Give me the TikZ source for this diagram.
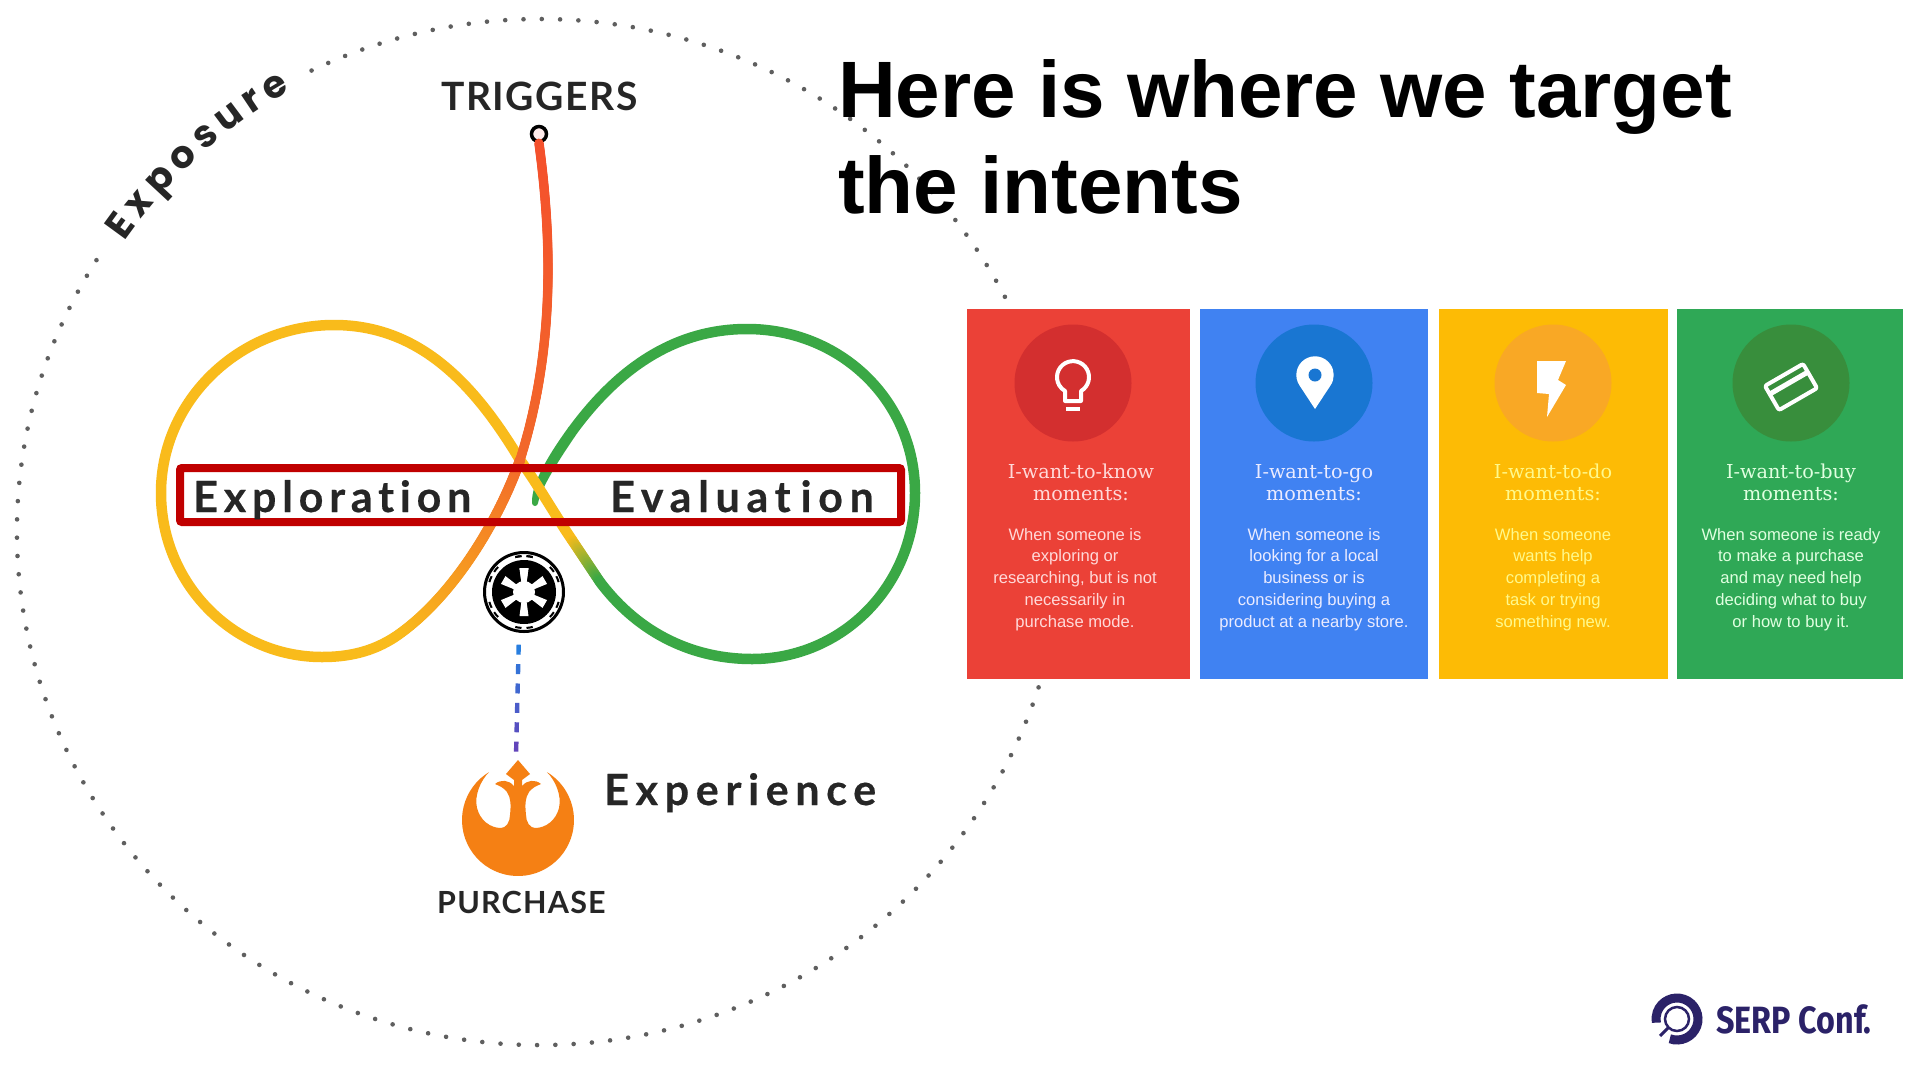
\documentclass[tikz,border=0pt]{standalone}
\usepackage{fontspec}
\usetikzlibrary{decorations.markings, decorations.text}
\setmainfont{Liberation Sans}
\newfontfamily\lblfont{Lato}[LetterSpace=15.5,Ligatures=NoCommon,BoldFeatures={FakeBold=0.4}]
\newfontfamily\capfont{Lato}[LetterSpace=4]
\newfontfamily\expofont{Poppins}
\newfontfamily\slabfont{DejaVu Serif}
\newfontfamily\logofont{Fira Sans}[FakeStretch=0.85]
\definecolor{inkgray}{HTML}{262626}
\definecolor{dotgray}{HTML}{5F5F5F}
\definecolor{loopyellow}{HTML}{F9BB1B}
\definecolor{loopgreen}{HTML}{3AA845}
\definecolor{triggerred}{HTML}{F4502C}
\definecolor{crossorange}{HTML}{F2682A}
\definecolor{boxred}{HTML}{C00000}
\definecolor{rebelorange}{HTML}{F58014}
\definecolor{dashblue}{HTML}{1E88E5}
\definecolor{dashpurple}{HTML}{6A3DB5}
\definecolor{logonavy}{HTML}{2B2268}
\definecolor{cardred}{HTML}{EB4137}
\definecolor{cardredd}{HTML}{D32F2F}
\definecolor{cardblue}{HTML}{4082F2}
\definecolor{cardblued}{HTML}{1976D2}
\definecolor{cardyellow}{HTML}{FDBB05}
\definecolor{cardyellowd}{HTML}{F9A825}
\definecolor{cardgreen}{HTML}{2FA856}
\definecolor{cardgreend}{HTML}{388E3C}
\tikzset{
  loopline/.style={line width=10.5pt,line cap=round},
  fadeline/.style n args={3}{decorate,decoration={markings,mark=between positions 0 and 1 step 1pt with {\pgfmathsetmacro\fadepct{min(100,100*(\pgfkeysvalueof{/pgf/decoration/mark info/distance from start}/\pgfdecoratedpathlength))}\fill[#2!\fadepct!#1] (0,0) circle (#3);}}},
  dashlink/.style={decorate,decoration={markings,mark=between positions 17pt and -10pt step 19.4pt with {\pgfmathsetmacro\fadepct{min(100,100*(\pgfkeysvalueof{/pgf/decoration/mark info/distance from start}/\pgfdecoratedpathlength))}\fill[dashpurple!\fadepct!dashblue] (-5,-2.2) rectangle (5,2.2);}}},
  bigword/.style={anchor=base west,inner sep=0pt,text=inkgray,font=\lblfont\bfseries\fontsize{43}{43}\selectfont},
  capword/.style={anchor=base west,inner sep=0pt,text=inkgray,font=\capfont\bfseries\fontsize{#1}{#1}\selectfont},
  card/.style={anchor=north west,inner sep=0pt,minimum height=370pt,fill=#1},
  badge/.style={circle,inner sep=0pt,minimum size=117pt,fill=#1},
  cardhead/.style={anchor=base,inner sep=0pt,align=center,text=#1,font=\slabfont\fontsize{19.2}{21.7}\selectfont},
  cardbody/.style={anchor=base,inner sep=0pt,align=center,text=#1,font=\fontsize{16.6}{21.7}\selectfont},
  iconline/.style={draw=white,line width=4pt,line join=round}
}
\begin{document}
\begin{tikzpicture}[x=1pt,y=1pt]
\useasboundingbox (0,0) rectangle (1920,-1080);
\fill[white] (0,0) rectangle (1920,-1080);
\draw[dotgray,line width=4.6pt,line cap=round,dash pattern=on 0pt off 18.3pt] (540,-532) ++(148:523 and 513) arc[start angle=148,end angle=476,x radius=523,y radius=513];
\path[decorate,decoration={text along path,text align=fit to path,text color=inkgray,text={|\expofont\bfseries\fontsize{38}{38}\selectfont|Exposure}}] (540,-532) ++(145:507) arc[start angle=145,end angle=119.4,radius=507];

\coordinate (cross) at (520,-460);
\coordinate (lowleft) at (395,-637);
\coordinate (fadestart) at (572,-540);
\coordinate (fadeend) at (600,-582);

\draw[loopline,loopgreen] (fadeend) .. controls (640,-635) and (695,-659) .. (752,-659) .. controls (843,-659) and (915,-585) .. (915,-493) .. controls (915,-400) and (840,-329) .. (747,-329) .. controls (665,-329) and (610,-380) .. (573,-430);
\fill[loopgreen] (568.8,-426.8) .. controls (552,-450) and (531,-482) .. (532,-503) arc[start angle=180,end angle=360,radius=3] .. controls (541,-488) and (560,-458) .. (577.2,-433.2) -- cycle;
\draw[loopline,loopyellow] (lowleft) .. controls (372,-652) and (348,-657) .. (322,-657) .. controls (233,-657) and (161,-583) .. (161,-493) .. controls (161,-400) and (240,-325) .. (334,-325) .. controls (420,-325) and (475,-385) .. (cross) .. controls (535,-480) and (555,-515) .. (fadestart);
\path[fadeline={loopyellow}{loopgreen}{5.25pt}] (fadestart) -- (fadeend);
\path[fadeline={crossorange}{loopyellow}{5.25pt}] (cross) .. controls (497,-525) and (450,-600) .. (lowleft);
\node[circle,draw=black,line width=3.5pt,fill=red!8!white,inner sep=0pt,minimum size=15pt] (trigdot) at (539,-134) {};
\path[fadeline={triggerred}{crossorange}{4.75pt}] (trigdot.south) .. controls (552,-240) and (555,-350) .. (cross);

\draw[boxred,line width=8pt,rounded corners=2pt] (180,-468) rectangle (901,-522);
\node[bigword] (exploration) at (193,-512) {\addfontfeature{LetterSpace=13.5}Exploration};
\node[bigword] (evaluation) at (610,-512) {Evaluat\kern10pt ion};
\node[bigword] (experience) at (604,-805) {Experience};
\node[capword=39] (triggers) at (441,-110) {TRIGGERS};
\node[capword=30.5] (purchase) at (437,-913) {PURCHASE};

\node[circle,draw=black,line width=3pt,inner sep=0pt,minimum size=79pt] (empire) at (524,-592) {};
\fill (empire) circle (32);
\fill[white] (empire) circle (11);
\foreach \a in {90,150,...,450} {
\begin{scope}[shift={(empire)},rotate=\a]
\fill[white] (9,-2.5) -- (24,-4.5) -- (24,4.5) -- (9,2.5) -- cycle;
\draw[line width=2pt] (-14:36) arc[start angle=-14,end angle=-4,radius=36];
\draw[line width=2pt] (4:36) arc[start angle=4,end angle=14,radius=36];
\end{scope}
}

\node[circle,inner sep=0pt,minimum size=120pt] (rebel) at (518,-820) {};
\begin{scope}[shift={(rebel)}]
\fill[rebelorange] (121:56) arc[start angle=121,end angle=419,radius=56] .. controls (37,40) and (44,25) .. (41,12) .. controls (38,0) and (28,-8) .. (17,-8) .. controls (12,-8) and (8,-2) .. (8,5) .. controls (7,15) and (7,22) .. (11,28) .. controls (14,32) and (18,34) .. (23,36) .. controls (17,41) and (9,40) .. (4,34) -- (4,40) -- (12,46) -- (0,60) -- (-12,46) -- (-4,40) -- (-4,34) .. controls (-9,40) and (-17,41) .. (-23,36) .. controls (-18,34) and (-14,32) .. (-11,28) .. controls (-7,22) and (-7,15) .. (-8,5) .. controls (-8,-2) and (-12,-8) .. (-17,-8) .. controls (-28,-8) and (-38,0) .. (-41,12) .. controls (-44,25) and (-37,40) .. (121:56) -- cycle;
\end{scope}
\path[dashlink] (empire.-97) -- (rebel.92);

\node[card=cardred,minimum width=223pt] (knowcard) at (967,-309) {};
\node[card=cardblue,minimum width=228pt] (gocard) at (1200,-309) {};
\node[card=cardyellow,minimum width=229pt] (docard) at (1439,-309) {};
\node[card=cardgreen,minimum width=226pt] (buycard) at (1677,-309) {};
\node[badge=cardredd] (knowbadge) at (1073,-383) {};
\node[badge=cardblued] (gobadge) at (1314,-383) {};
\node[badge=cardyellowd] (dobadge) at (1553,-383) {};
\node[badge=cardgreend] (buybadge) at (1791,-383) {};

\draw[iconline] (1081,-401) -- (1081,-391) arc[start angle=-60,end angle=240,radius=16] -- (1065,-401) -- cycle;
\draw[iconline] (1066,-409) -- (1080,-409);
\fill[white] (1315,-409) -- (1299.7,-385.7) arc[start angle=215,end angle=-35,radius=18.7] -- cycle;
\fill[cardblued] (1315,-375) circle (6.5);
\fill[white] (1537,-361) -- (1566,-361) -- (1558,-380) -- (1566,-385) -- (1547,-417) -- (1549,-394) -- (1537,-393) -- cycle;
\begin{scope}[shift={(1791,-387)},rotate=30]
\draw[iconline,rounded corners=2pt] (-22,-14) rectangle (22,14);
\draw[iconline,line width=5pt] (-22,4.5) -- (22,4.5);
\end{scope}

\node[cardhead=red!15!white] (knowhead) at (1081,-500) {I-want-to-know\\moments:};
\node[cardhead=blue!8!white] (gohead) at (1314,-500) {I-want-to-go\\moments:};
\node[cardhead=yellow!45!white] (dohead) at (1553,-500) {I-want-to-do\\moments:};
\node[cardhead=green!12!white] (buyhead) at (1791,-500) {I-want-to-buy\\moments:};
\node[cardbody=red!15!white] (knowbody) at (1075,-627) {When someone is\\exploring or\\researching, but is not\\necessarily in\\purchase mode.};
\node[cardbody=blue!8!white] (gobody) at (1314,-627) {When someone is\\looking for a local\\business or is\\considering buying a\\product at a nearby store.};
\node[cardbody=yellow!45!white] (dobody) at (1553,-627) {When someone\\wants help\\completing a\\task or trying\\something new.};
\node[cardbody=green!12!white] (buybody) at (1791,-627) {When someone is ready\\to make a purchase\\and may need help\\deciding what to buy\\or how to buy it.};

\node[anchor=base west,inner sep=0pt,align=left,font=\bfseries\fontsize{80}{96}\selectfont] (title) at (838,-213) {Here is where we target\\the intents};

\draw[logonavy,line width=9pt] (1677,-1019) ++(250:21) arc[start angle=250,end angle=550,radius=21];
\draw[logonavy,line width=2.5pt] (1677,-1019) circle (12);
\draw[logonavy,line width=3pt] (1668,-1028) -- (1660,-1036);
\node[anchor=base west,inner sep=0pt,text=logonavy,font=\logofont\bfseries\fontsize{38}{38}\selectfont] (serp) at (1716,-1033) {SERP Conf.};
\end{tikzpicture}
\end{document}
